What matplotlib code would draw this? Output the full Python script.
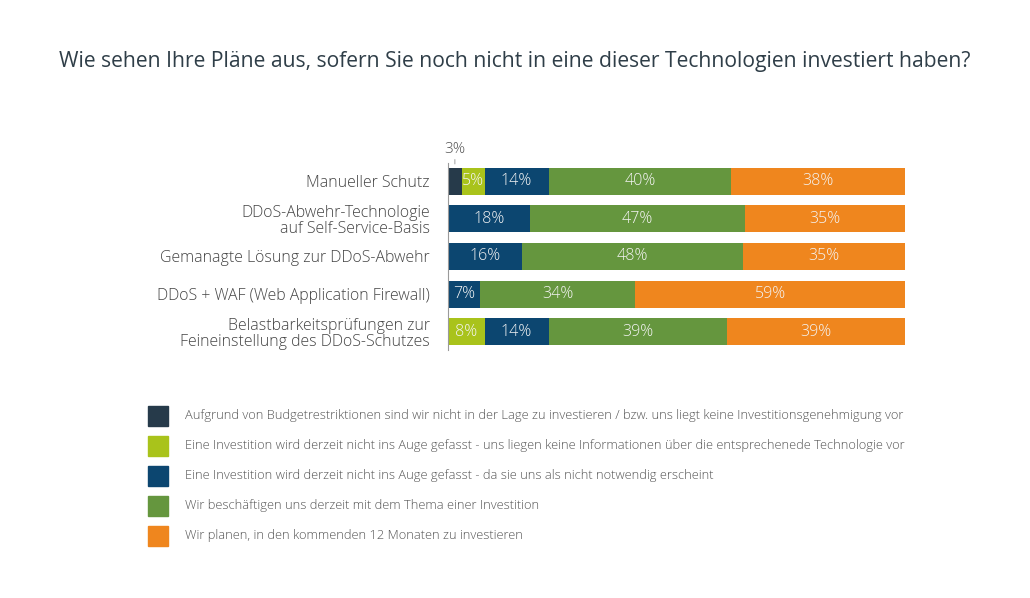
import numpy as np
import matplotlib
matplotlib.use("Agg")
from matplotlib import pyplot as plt
from matplotlib.patches import Rectangle

plt.rcParams['font.family'] = ['Open Sans', 'DejaVu Sans']

categories = [
    'Manueller Schutz',
    'DDoS-Abwehr-Technologie\nauf Self-Service-Basis',
    'Gemanagte Lösung zur DDoS-Abwehr',
    'DDoS + WAF (Web Application Firewall)',
    'Belastbarkeitsprüfungen zur\nFeineinstellung des DDoS-Schutzes',
]
budget = [3, 0, 0, 0, 0]
keine_info = [5, 0, 0, 0, 8]
nicht_notwendig = [14, 18, 16.2, 7, 14]
beschaeftigen = [40, 47, 48.4, 34, 39]
planen = [38, 35, 35.4, 59, 39]

series_labels = [
    'Aufgrund von Budgetrestriktionen sind wir nicht in der Lage zu investieren / bzw. uns liegt keine Investitionsgenehmigung vor',
    'Eine Investition wird derzeit nicht ins Auge gefasst - uns liegen keine Informationen über die entsprechenede Technologie vor',
    'Eine Investition wird derzeit nicht ins Auge gefasst - da sie uns als nicht notwendig erscheint',
    'Wir beschäftigen uns derzeit mit dem Thema einer Investition',
    'Wir planen, in den kommenden 12 Monaten zu investieren',
]
colors = ['#263a4a', '#a9c31b', '#0c4670', '#65963e', '#ef861e']

title = 'Wie sehen Ihre Pläne aus, sofern Sie noch nicht in eine dieser Technologien investiert haben?'

fig = plt.figure(figsize=(10.3, 5.98), dpi=100)
fig.patch.set_facecolor('white')
fig.text(0.5, 1 - 61 / 598, title, ha='center', va='center',
         fontsize=15.2, color='#2f3e48')

ax = fig.add_axes([448 / 1030, 1 - 350.25 / 598, 457 / 1030, 187.5 / 598])

series = [budget, keine_info, nicht_notwendig, beschaeftigen, planen]
y = np.arange(len(categories))
left = np.zeros(len(categories))
for vals, col in zip(series, colors):
    vals = np.array(vals, dtype=float)
    ax.barh(y, vals, left=left, height=0.72, color=col, edgecolor='none')
    for yi, (l, v) in enumerate(zip(left, vals)):
        if v >= 4:
            ax.text(l + v / 2, yi, f'{v:.0f}%', ha='center', va='center',
                    color='#f4f4f4', fontsize=11.5, fontweight='light')
    left += vals

# small segment labelled above the bar
ax.annotate(f'{budget[0]}%', xy=(budget[0] / 2, -0.47), xytext=(0, 10.5),
            textcoords='offset points', ha='center', va='center',
            fontsize=11, color='#555555', fontweight='light',
            arrowprops=dict(arrowstyle='-', color='#aaaaaa', lw=0.8,
                            shrinkA=0, shrinkB=0))

ax.set_xlim(0, 100)
ax.set_ylim(len(categories) - 0.5, -0.5)
ax.set_yticks(y)
ax.set_yticklabels(categories, fontsize=11.4, color='#444444', linespacing=1.0,
                   fontweight='light')
ax.tick_params(axis='y', length=0, pad=13)
ax.set_xticks([])
for s in ['top', 'right', 'bottom']:
    ax.spines[s].set_visible(False)
ax.spines['left'].set_color('#9a9a9a')
ax.spines['left'].set_linewidth(0.8)

# legend drawn as a vertical list
for i, (lab, col) in enumerate(zip(series_labels, colors)):
    yc = 1 - (416 + 30 * i) / 598
    fig.patches.append(Rectangle((148 / 1030, yc - 10 / 598), 20 / 1030, 20 / 598,
                                 transform=fig.transFigure, color=col))
    fig.text(185 / 1030, yc, lab, ha='left', va='center', fontsize=9.3,
             color='#555555', fontweight='light')

fig.savefig('out.png', dpi=100, facecolor='white')
